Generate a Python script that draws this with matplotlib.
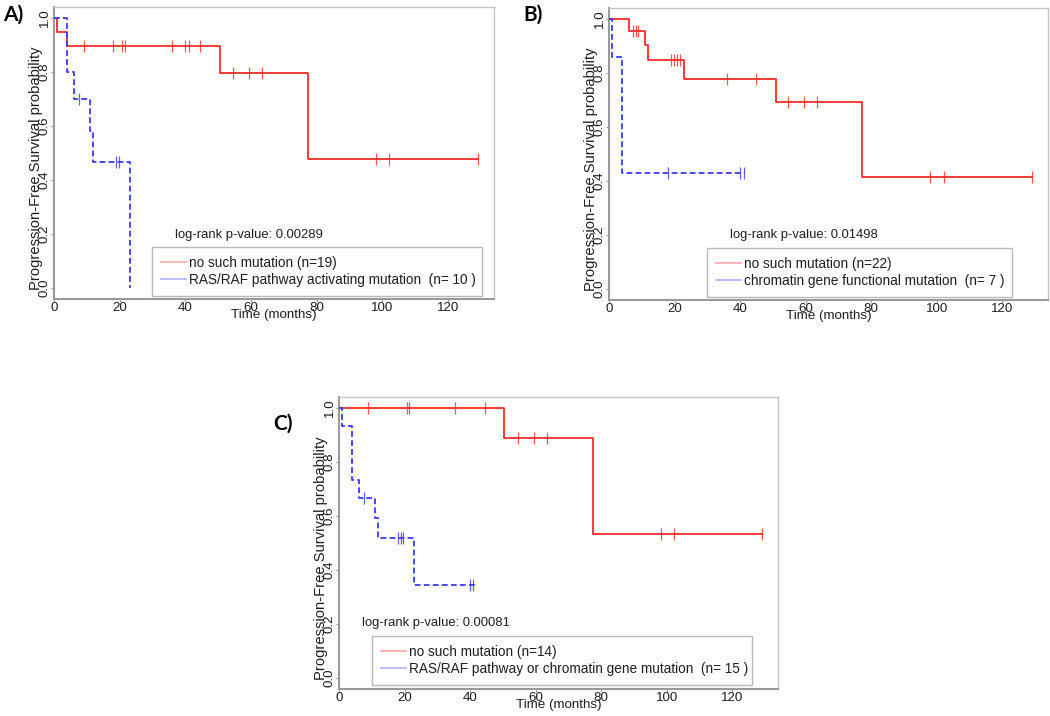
import numpy as np
import matplotlib
matplotlib.use("Agg")
import matplotlib.pyplot as plt
from matplotlib.lines import Line2D

plt.rcParams['font.family'] = ['Liberation Sans', 'DejaVu Sans']

W, H = 1050, 716

# ---------------- data ----------------
# Panel A
a_red_t = [0, 1, 4, 50.5, 77.5]
a_red_s = [1.0, 0.947, 0.895, 0.795, 0.477]
a_red_end = 129
a_red_cens = [9, 18, 20.6, 21.7, 36, 40, 41, 44.6, 54.5, 59.4, 63.4, 98.2, 102, 129]
a_blue_t = [0, 4, 6, 11, 12, 23]
a_blue_s = [1.0, 0.8, 0.7, 0.583, 0.467, 0.0]
a_blue_end = 23
a_blue_cens = [7.7, 19.0, 19.8]

# Panel B
b_red_t = [0, 6, 11, 12, 23, 51, 77.3]
b_red_s = [1.0, 0.955, 0.902, 0.849, 0.778, 0.691, 0.415]
b_red_end = 129
b_red_cens = [7.4, 8.2, 9.0, 18.8, 19.8, 20.8, 21.8, 36, 44.8, 54.7, 59.5, 63.5, 98, 102.2, 129]
b_blue_t = [0, 1, 4]
b_blue_s = [1.0, 0.857, 0.429]
b_blue_end = 41.5
b_blue_cens = [18, 40, 41.2]

# Panel C
c_red_t = [0, 50.5, 77.5]
c_red_s = [1.0, 0.889, 0.533]
c_red_end = 129
c_red_cens = [8.7, 20.7, 21.5, 35.5, 44.5, 54.6, 59.4, 63.5, 98.2, 102.2, 129]
c_blue_t = [0, 1, 4, 6, 11, 12, 23]
c_blue_s = [1.0, 0.933, 0.733, 0.667, 0.593, 0.519, 0.346]
c_blue_end = 41.5
c_blue_cens = [7.6, 18.0, 18.8, 19.6, 40.0, 41.0]

x_ticks = [0, 20, 40, 60, 80, 100, 120]
y_ticks = [0.0, 0.2, 0.4, 0.6, 0.8, 1.0]

panels = [
    dict(letter="A)", box=(54, 7, 494, 299),
         red=(a_red_t, a_red_s, a_red_end, a_red_cens),
         blue=(a_blue_t, a_blue_s, a_blue_end, a_blue_cens),
         pval="log-rank p-value: 0.00289", pval_xy=(175, 235),
         labels=["no such mutation (n=19)",
                 "RAS/RAF pathway activating mutation  (n= 10 )"],
         leg=(152, 248, 482, 296), letter_xy=(3, 15)),
    dict(letter="B)", box=(609, 8, 1048, 300),
         red=(b_red_t, b_red_s, b_red_end, b_red_cens),
         blue=(b_blue_t, b_blue_s, b_blue_end, b_blue_cens),
         pval="log-rank p-value: 0.01498", pval_xy=(730, 235),
         labels=["no such mutation (n=22)",
                 "chromatin gene functional mutation  (n= 7 )"],
         leg=(707, 248, 1012, 297), letter_xy=(523, 15)),
    dict(letter="C)", box=(339, 397, 778, 689),
         red=(c_red_t, c_red_s, c_red_end, c_red_cens),
         blue=(c_blue_t, c_blue_s, c_blue_end, c_blue_cens),
         pval="log-rank p-value: 0.00081", pval_xy=(362, 623),
         labels=["no such mutation (n=14)",
                 "RAS/RAF pathway or chromatin gene mutation  (n= 15 )"],
         leg=(372, 637, 752, 685), letter_xy=(273, 424)),
]

RED = '#ff2a2a'
BLUE = '#3a3aff'
TXT = '#1e1e1e'

fig = plt.figure(figsize=(W / 100, H / 100), dpi=100)


def fx(x):
    return x / W


def fy(y):
    return 1 - y / H


def draw_curve(ax, t, s, end, cens, color, ls):
    xs = list(t) + [end]
    ys = list(s) + [s[-1]]
    ax.step(xs, ys, where='post', color=color, lw=1.3, ls=ls, zorder=3)
    tt = np.asarray(t)
    idx = np.searchsorted(tt, np.asarray(cens), side='right') - 1
    cy = np.asarray(s)[idx]
    ax.plot(cens, cy, ls='none', marker='|', ms=8, mew=0.9, color=color,
            alpha=0.8, zorder=4)


for p in panels:
    l, t, r, b = p["box"]
    ax = fig.add_axes([fx(l), fy(b), (r - l) / W, (b - t) / H])
    ax.set_xlim(0, 134)
    ax.set_ylim(-0.04, 1.04)
    draw_curve(ax, *p["red"], RED, '-')
    draw_curve(ax, *p["blue"], BLUE, (0, (3.2, 1.8)))

    for sp in ['top', 'right']:
        ax.spines[sp].set_color('#c4c4c4')
        ax.spines[sp].set_linewidth(1.0)
    for sp in ['left', 'bottom']:
        ax.spines[sp].set_color('#9a9a9a')
        ax.spines[sp].set_linewidth(1.5)

    ax.set_xticks(x_ticks)
    ax.set_xticklabels([str(v) for v in x_ticks])
    ax.set_yticks(y_ticks)
    ax.set_yticklabels(["%.1f" % v for v in y_ticks], rotation=90, va='center')
    ax.tick_params(axis='both', length=2.0, width=0.8, color='#9a9a9a',
                   labelsize=9.6, labelcolor=TXT, pad=0.3)

    # axis labels
    fig.text(fx((l + r) / 2), fy(b + 16), "Time (months)", ha='center',
             va='center', fontsize=9.6, color=TXT)
    fig.text(fx(l - 18), fy((t + b) / 2 + 15),
             "Progression-Free Survival probability", rotation=90,
             ha='center', va='center', fontsize=10.6, color=TXT)

    # p-value
    px, py = p["pval_xy"]
    fig.text(fx(px), fy(py), p["pval"], ha='left', va='center',
             fontsize=9.4, color=TXT)

    # legend
    ll, lt, lr, lb = p["leg"]
    handles = [Line2D([], [], color='#ffa8a8', lw=1.2),
               Line2D([], [], color='#b0b0ff', lw=1.2)]
    leg = ax.legend(handles, p["labels"], loc='lower left',
                    bbox_to_anchor=(fx(ll), fy(lb), (lr - ll) / W, (lb - lt) / H),
                    bbox_transform=fig.transFigure, mode='expand',
                    fontsize=9.8, frameon=True, fancybox=False,
                    borderpad=0.68, labelspacing=0.2, handlelength=1.85,
                    handletextpad=0.2, borderaxespad=0.0)
    fr = leg.get_frame()
    fr.set_edgecolor('#a8a8a8')
    fr.set_linewidth(1.0)
    for txt in leg.get_texts():
        txt.set_color(TXT)

    # panel letter
    lx, ly = p["letter_xy"]
    fig.text(fx(lx), fy(ly), p["letter"], ha='left', va='center',
             fontsize=15, fontweight='bold', family=['Lato', 'DejaVu Sans'],
             color='black')

fig.savefig("out.png", dpi=100)
